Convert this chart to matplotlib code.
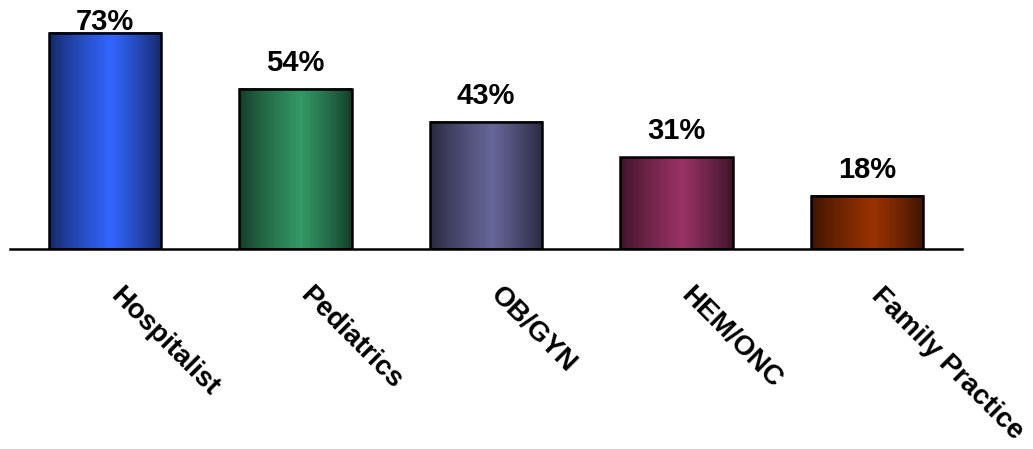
import numpy as np
import matplotlib
matplotlib.use("Agg")
import matplotlib.pyplot as plt
from matplotlib.colors import to_rgb

categories = ["Hospitalist", "Pediatrics", "OB/GYN", "HEM/ONC", "Family Practice"]
values = [73, 54, 43, 31, 18]
labels = ["73%", "54%", "43%", "31%", "18%"]
colors = ["#3366ff", "#339966", "#666699", "#993366", "#993300"]

plt.rcParams["font.family"] = ["Liberation Sans", "DejaVu Sans"]

fig = plt.figure(figsize=(10.33, 4.49), dpi=100)
ax = fig.add_axes([10 / 1033, 200 / 449, 952 / 1033, 249 / 449])

x = np.arange(len(categories))
bars = ax.bar(x, values, width=0.59, facecolor="none", edgecolor="black",
              linewidth=1.8, zorder=3)

# horizontal shading: dark edges, light just right of centre
u = np.linspace(0, 1, 256)
prof = np.where(u < 0.55, u / 0.55, (1 - u) / 0.45)
prof = 0.38 + 0.62 * np.clip(prof, 0, 1) ** 0.8
for b, c in zip(bars, colors):
    rgb = np.array(to_rgb(c))
    img = prof[None, :, None] * rgb[None, None, :]
    x0, y0 = b.get_x(), b.get_y()
    ax.imshow(img, extent=[x0, x0 + b.get_width(), y0, y0 + b.get_height()],
              aspect="auto", zorder=2, interpolation="bilinear")

for b, lab, v in zip(bars, labels, values):
    ax.text(b.get_x() + b.get_width() / 2, min(v + 4.0, 71.8), lab,
            ha="center", va="bottom", fontsize=21, fontweight="bold")

for i, cat in enumerate(categories):
    ax.annotate(cat, xy=(i, 0), xycoords=("data", "axes fraction"),
                xytext=(13, -24), textcoords="offset points",
                rotation=-45, rotation_mode="anchor", ha="left", va="top",
                fontsize=20, fontweight="bold", annotation_clip=False)

ax.set_xlim(-0.5, 4.5)
ax.set_ylim(0, 84)
ax.set_xticks([])
ax.set_yticks([])
for s in ["top", "left", "right"]:
    ax.spines[s].set_visible(False)
ax.spines["bottom"].set_linewidth(1.8)

fig.savefig("out.png", dpi=100)
